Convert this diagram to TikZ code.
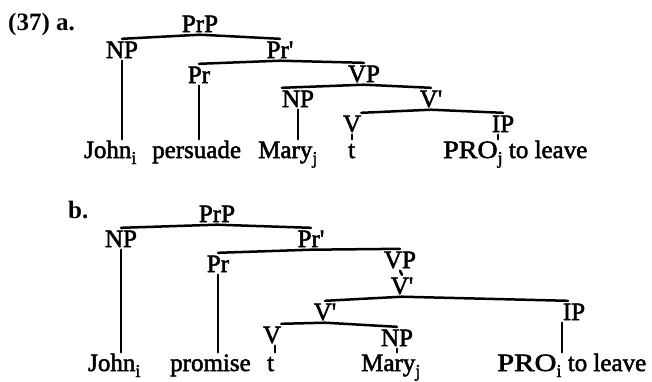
\documentclass[tikz,border=0pt]{standalone}
\usepackage{fontspec}
\setmainfont{Liberation Serif}
\newfontfamily\scanfont[FakeBold=2]{Liberation Serif}
\newcommand{\lblfont}{\fontsize{25}{30}\selectfont\scanfont}
\newcommand{\widecaps}[2]{\scalebox{#1}[1]{#2}}
\newcommand{\lowsub}[1]{\raisebox{-6pt}{\fontsize{18}{20}\selectfont #1}}
\begin{document}
\begin{tikzpicture}[x=1pt,y=-1pt,
  lab/.style={inner xsep=0pt, inner ysep=2.5pt, text height=16.5pt, text depth=0pt, anchor=base, font=\lblfont},
  leaf/.style={inner xsep=0pt, inner ysep=2pt, text height=16.5pt, text depth=0pt, anchor=base west, font=\lblfont},
  ttl/.style={inner sep=0pt, anchor=base west, font=\fontsize{25}{30}\selectfont\bfseries},
  br/.style={line width=2.5pt, line join=round, line cap=round}]
\path[use as bounding box] (0,0) rectangle (652,381);

% ---------- tree (a) ----------
\node[ttl] (ta) at (8,30) {(37) a.};
\node[lab] (PrPa) at (200,32) {PrP};
\node[lab] (NPa)  at (122,58) {NP};
\node[lab] (Prba) at (280,58) {Pr'};
\node[lab] (Pra)  at (199,83) {Pr};
\node[lab] (VPa)  at (364,82) {VP};
\node[lab] (NPta) at (298,107) {NP};
\node[lab] (Vba)  at (431,107) {V'};
\node[lab] (Va)   at (352,132) {V};
\node[lab] (IPa)  at (503,132) {IP};

\node[leaf] (Johna) at (84,158) {John\lowsub{i}};
\node[leaf] (Persa) at (152,158) {persuade};
\node[leaf] (Marya) at (258,158) {Mary\lowsub{j}};
\node[leaf] (ta2)   at (348,158) {t};
\node[leaf] (PROa)  at (443,158) {\widecaps{1.12}{PRO}\lowsub{j} to leave};

\draw[br] (NPa.north) -- (PrPa.south) -- (Prba.north);
\draw[br] (Pra.north) -- (Prba.south) -- (VPa.north);
\draw[br] (NPta.north west) -- (VPa.south) -- (Vba.north);
\draw[br] (Va.north east) -- (Vba.south) -- (IPa.north);

\draw[br] (NPa.south) -- (NPa.south |- Johna.north);
\draw[br] (Pra.south) -- (Pra.south |- Persa.north);
\draw[br] (NPta.south) -- (NPta.south |- Marya.north);
\draw[br] (Va.south) -- (Va.south |- ta2.north);
\draw[br] ([xshift=-5pt]IPa.south) -- ([xshift=-5pt]IPa.south |- PROa.north);

% ---------- tree (b) ----------
\node[ttl] (tb) at (68,218) {b.};
\node[lab] (PrPb) at (217,222) {PrP};
\node[lab] (NPb)  at (121,247) {NP};
\node[lab] (Prbb) at (311,247) {Pr'};
\node[lab] (Prb)  at (218,272) {Pr};
\node[lab] (VPb)  at (400,268) {VP};
\node[lab] (Vbb)  at (402,294) {V'};
\node[lab] (Vblb) at (325,320) {V'};
\node[lab] (IPb)  at (574,320) {IP};
\node[lab] (Vb)   at (272,343) {V};
\node[lab] (NPtb) at (397,346) {NP};

\node[leaf] (Johnb) at (88,371) {John\lowsub{i}};
\node[leaf] (Promb) at (170,371) {promise};
\node[leaf] (tbb)   at (267,371) {t};
\node[leaf] (Maryb) at (361,371) {Mary\lowsub{j}};
\node[leaf] (PROb)  at (497,371) {\widecaps{1.22}{PRO}\lowsub{i} to leave};

\draw[br] (NPb.north) -- (PrPb.south) -- (Prbb.north);
\draw[br] (Prb.north) -- (Prbb.south) -- (VPb.north);
\draw[br] (VPb.south) -- (Vbb.north);
\draw[br] (Vblb.north) -- (Vbb.south) -- ([xshift=-6pt]IPb.north);
\draw[br] (Vb.north east) -- (Vblb.south) -- (NPtb.north);

\draw[br] (NPb.south) -- (NPb.south |- Johnb.north);
\draw[br] (Prb.south) -- (Prb.south |- Promb.north);
\draw[br] ([xshift=3pt]Vb.south) -- ([xshift=3pt]Vb.south |- tbb.north);
\draw[br] (NPtb.south) -- (NPtb.south |- Maryb.north);
\draw[br] ([xshift=-12pt]IPb.south) -- ([xshift=-12pt]IPb.south |- PROb.north);
\end{tikzpicture}
\end{document}
